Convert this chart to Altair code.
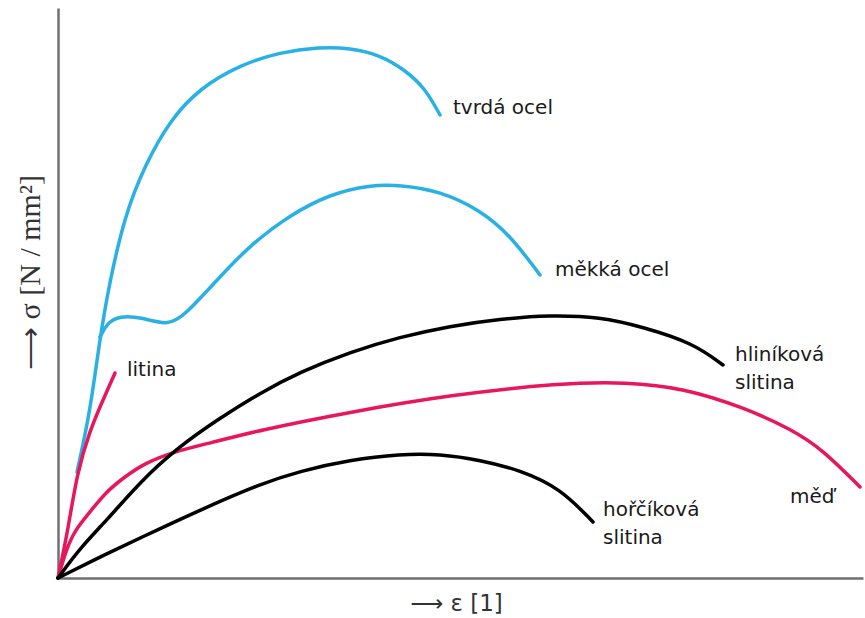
import altair as alt
import pandas as pd

# Values (arbitrary strain / stress units)
tvrda_x = [19, 32, 42, 52, 67, 87, 112, 142, 182, 222, 262, 292, 322, 347, 367, 382]
tvrda_y = [106, 165, 241, 298, 363, 413, 458, 490, 513, 526, 531, 530, 523, 508, 490, 463]

mekka_x = [42, 49, 62, 82, 110, 127, 159, 192, 232, 272, 312, 342, 382, 422, 452, 482]
mekka_y = [241, 255, 262, 261, 252, 263, 298, 333, 363, 384, 393, 393, 387, 368, 343, 303]

litina_x = [0, 10, 19, 32, 45, 57]
litina_y = [0, 48, 105, 148, 178, 205]

med_x = [0, 8, 17, 32, 47, 65, 87, 115, 152, 202, 292, 392, 502, 569, 625, 685, 735, 765, 802]
med_y = [0, 28, 48, 66, 85, 100, 115, 126, 135, 148, 166, 183, 195, 196, 190, 171, 148, 128, 91]

al_x = [0, 22, 49, 82, 119, 162, 202, 242, 292, 342, 392, 442, 492, 542, 585, 635, 665]
al_y = [0, 30, 58, 96, 130, 160, 185, 206, 226, 241, 252, 259, 263, 261, 251, 235, 213]

mg_x = [0, 42, 82, 142, 202, 242, 292, 342, 382, 422, 462, 502, 535]
mg_y = [0, 21, 40, 68, 94, 107, 118, 124, 124, 118, 108, 90, 56]

series_names = ["tvrdá ocel", "měkká ocel", "litina", "měď", "hliníková slitina", "hořčíková slitina"]
series_colors = ["#29b1e6", "#29b1e6", "#e8175d", "#e8175d", "#000000", "#000000"]

label_text = ["tvrdá ocel", "měkká ocel", "litina", "hliníková", "slitina", "měď", "hořčíková", "slitina"]
label_x = [395, 497, 69, 677, 677, 732, 545, 545]
label_y = [470, 308, 208, 223, 195, 81, 68, 40]

rows = []
for name, xs, ys in zip(series_names,
                        [tvrda_x, mekka_x, litina_x, med_x, al_x, mg_x],
                        [tvrda_y, mekka_y, litina_y, med_y, al_y, mg_y]):
    for i, (a, b) in enumerate(zip(xs, ys)):
        rows.append({"series": name, "order": i, "eps": a, "sigma": b})
df = pd.DataFrame(rows)
labels = pd.DataFrame({"text": label_text, "eps": label_x, "sigma": label_y})

xscale = alt.Scale(domain=[0, 805], nice=False, zero=False)
yscale = alt.Scale(domain=[0, 570], nice=False, zero=False)

lines = alt.Chart(df).mark_line(interpolate="basis", strokeWidth=3.5, strokeCap="round").encode(
    x=alt.X("eps:Q", scale=xscale,
            axis=alt.Axis(title="⟶  ε  [1]", titleX=398, titleY=25, titleAlign="center",
                          titleBaseline="middle", titleFont="DejaVu Sans", titleFontSize=23,
                          titleFontWeight="normal", titleColor="#333")),
    y=alt.Y("sigma:Q", scale=yscale,
            axis=alt.Axis(title="⟶  σ [N / mm²]", titleX=-28, titleY=264, titleAngle=270,
                          titleAlign="center", titleBaseline="middle", titleFont="Liberation Serif",
                          titleFontSize=30, titleFontWeight="normal", titleColor="#333")),
    color=alt.Color("series:N", scale=alt.Scale(domain=series_names, range=series_colors), legend=None),
    detail="series:N",
    order="order:Q",
)

text = alt.Chart(labels).mark_text(align="left", baseline="middle", font="DejaVu Sans",
                                   fontSize=20, color="#1a1a1a").encode(
    x=alt.X("eps:Q", scale=xscale),
    y=alt.Y("sigma:Q", scale=yscale),
    text="text:N",
)

chart = alt.layer(lines, text).properties(
    width=805, height=570,
    autosize=alt.AutoSizeParams(type="none"),
    padding={"left": 58, "top": 8, "right": 2, "bottom": 40},
    background="white",
).configure_view(stroke=None).configure_axis(
    domainColor="#707070", domainWidth=2.5, ticks=False, labels=False, grid=False,
)

chart.save("out.html", embed_options={"renderer": "svg", "actions": False})
